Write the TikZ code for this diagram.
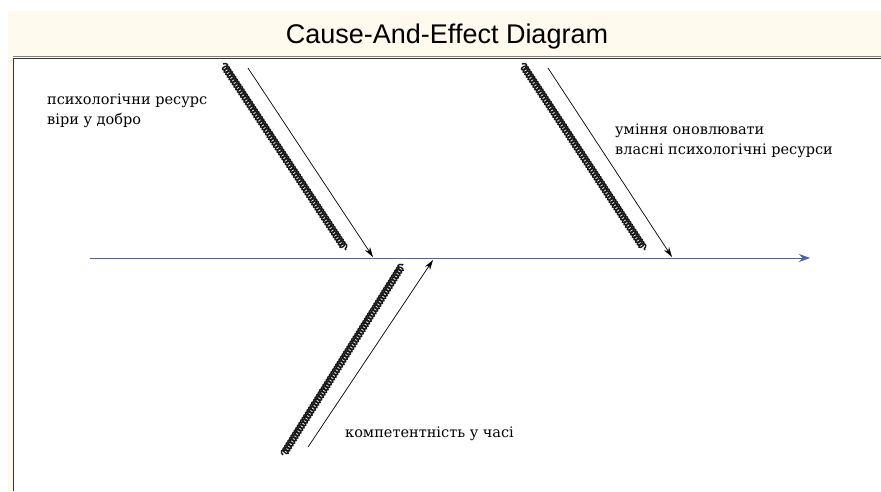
\documentclass[tikz,border=0pt]{standalone}
\usepackage{fontspec}
\setmainfont{DejaVu Serif}
\newfontfamily\titlefont{Liberation Sans}
\usepackage{xcolor}
\usetikzlibrary{arrows, arrows.meta, positioning, decorations.pathmorphing}

\definecolor{cream}{HTML}{FFF9EE}
\definecolor{spineblue}{HTML}{4A62B0}

\begin{document}
\begin{tikzpicture}[x=1pt, y=-1pt, >=stealth,
    bone/.style={decorate, decoration={coil, amplitude=3.4pt, segment length=3pt, aspect=0.6}, line width=1.4pt, black!90},
    cause/.style={-{Stealth[length=10pt, width=6pt]}, black, line width=0.7pt},
    lbl/.style={font=\fontsize{14.5}{20}\selectfont, align=left, inner sep=0pt, anchor=north west}]
    \useasboundingbox (0,0) rectangle (881,491);
    \fill[cream] (8,11) rectangle (881,491);
    \fill[white] (13,58) rectangle (881,491);
    \draw[black!80, line width=0.8pt] (13,491) -- (13,58) -- (881,58);
    \draw[black!50, line width=0.4pt] (13,56.5) -- (881,56.5);
    \node (title) at (447,37) {\titlefont\fontsize{27}{30}\selectfont Cause-And-Effect Diagram};

    % spine
    \coordinate (sL) at (90,258);
    \coordinate (sR) at (810,258);
    \draw[-{Stealth[length=11pt, width=8pt]}, spineblue, line width=0.8pt] (sL) -- (sR);

    % bones
    \coordinate (a1) at (223,64);  \coordinate (a2) at (346,250);
    \coordinate (b1) at (522,64);  \coordinate (b2) at (645,250);
    \coordinate (c1) at (283,455); \coordinate (c2) at (403,264);
    \draw[bone] (a1) -- (a2);
    \draw[bone] (b1) -- (b2);
    \draw[bone] (c1) -- (c2);

    \coordinate (a3) at (248,68);  \coordinate (a4) at (373,257);
    \coordinate (b3) at (548,68);  \coordinate (b4) at (672,257);
    \coordinate (c3) at (308,447); \coordinate (c4) at (433,260);
    \draw[cause] (a3) -- (a4);
    \draw[cause] (b3) -- (b4);
    \draw[cause] (c3) -- (c4);

    \node[lbl] (la) at (47,94) {психологічни ресурс\\віри у добро};
    \node[lbl] (lb) at (615,124) {уміння оновлювати\\власні психологічні ресурси};
    \node[lbl] (lc) at (345,427) {компетентність у часі};
\end{tikzpicture}
\end{document}
